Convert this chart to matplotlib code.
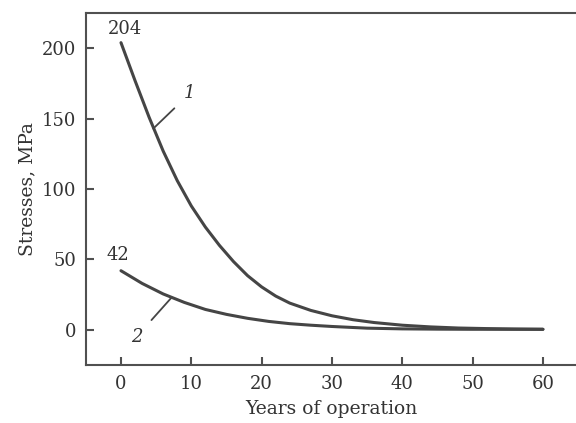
import matplotlib.pyplot as plt

# stresses vs. years of operation
years1 = [0, 2, 4, 6, 8, 10, 12, 14, 16, 18, 20, 22, 24, 27, 30, 33, 36, 40,
          44, 48, 52, 56, 60]
stress1 = [204, 177, 151, 127, 106, 88, 73, 60, 48.5, 38.5, 30.5, 24, 19, 13.8,
           10, 7.2, 5.2, 3.3, 2.1, 1.3, 0.9, 0.6, 0.4]

years2 = [0, 3, 6, 9, 12, 15, 18, 21, 24, 27, 30, 35, 40, 45, 50, 55, 60]
stress2 = [42, 33, 25.5, 19.5, 14.5, 11, 8.2, 6, 4.4, 3.3, 2.4, 1.2, 0.7, 0.5,
           0.4, 0.4, 0.4]

xticks = [0, 10, 20, 30, 40, 50, 60]
yticks = [0, 50, 100, 150, 200]

plt.rcParams['font.family'] = 'DejaVu Serif'
col = '#454545'
tcol = '#333333'

fig = plt.figure(figsize=(5.76, 4.23), dpi=100)
ax = fig.add_axes([0.149, 0.137, 0.851, 0.832])

ax.plot(years1, stress1, color=col, lw=2.2, solid_capstyle='round',
        solid_joinstyle='round')
ax.plot(years2, stress2, color=col, lw=2.2, solid_capstyle='round',
        solid_joinstyle='round')

ax.set_xlim(-5, 64.7)
ax.set_ylim(-25, 225)
ax.set_xticks(xticks)
ax.set_yticks(yticks)

for s in ['left', 'bottom', 'top']:
    ax.spines[s].set_linewidth(1.5)
    ax.spines[s].set_color('#505050')
ax.spines['right'].set_visible(False)

ax.tick_params(direction='in', length=6, width=1.5, color='#505050',
               labelsize=13, labelcolor=tcol, pad=7)

ax.set_xlabel('Years of operation', fontsize=13.5, color=tcol, labelpad=5)
ax.set_ylabel('Stresses, MPa', fontsize=13.5, color=tcol, labelpad=4)

# value labels at the start of each curve
ax.text(years1[0] + 0.6, stress1[0] + 10, '204', fontsize=13, color=tcol,
        ha='center', va='center')
ax.text(years2[0] - 0.5, stress2[0] + 11, '42', fontsize=13, color=tcol,
        ha='center', va='center')

# curve numbers with leader lines
ax.annotate('1', xy=(4.6, 143), xytext=(9.8, 168), fontsize=13, style='italic',
            color=tcol, ha='center', va='center',
            arrowprops=dict(arrowstyle='-', color=col, lw=1.3,
                            shrinkA=7, shrinkB=0))
ax.annotate('2', xy=(7.2, 23), xytext=(2.2, -5), fontsize=13, style='italic',
            color=tcol, ha='center', va='center',
            arrowprops=dict(arrowstyle='-', color=col, lw=1.3,
                            shrinkA=7, shrinkB=0))

plt.savefig('out.png', dpi=100)
